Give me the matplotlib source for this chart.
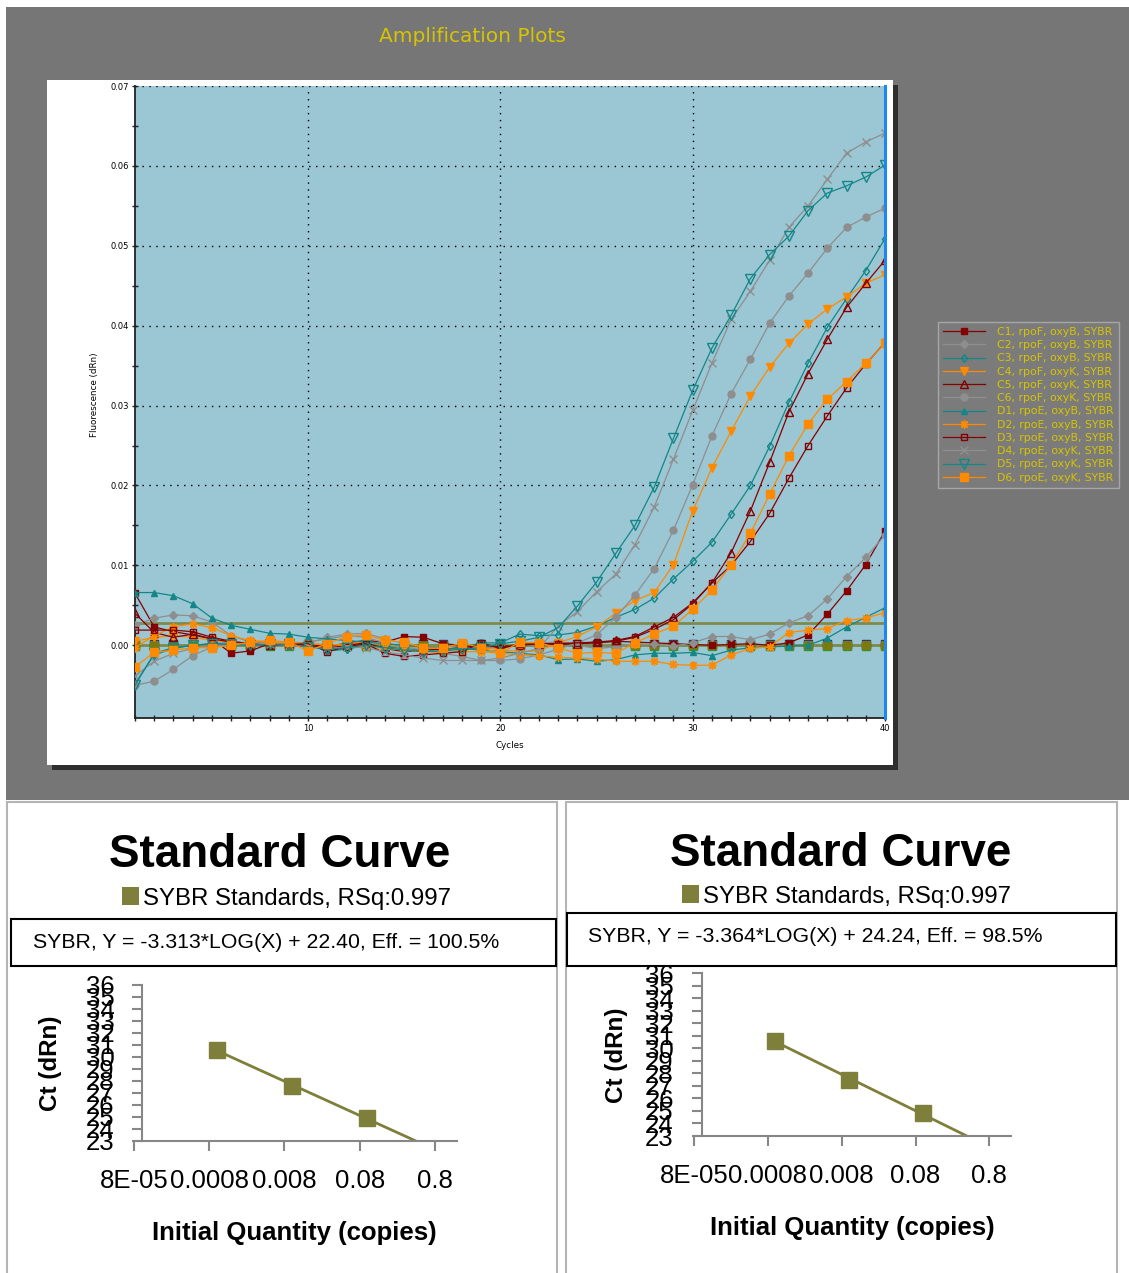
import numpy as np
import matplotlib.pyplot as plt
from matplotlib.patches import Rectangle

W, H = 1129, 1273

# ---- amplification data (dRn per cycle) ----
cycles = list(range(1, 41))

c1 = [0.0065, 0.0023, 0.0017, 0.0013, 0.0008, -0.0010, -0.0007, 0.0002, 0.0003, 0.0001,
      -0.0002, 0.0003, 0.0006, 0.0004, 0.0011, 0.0010, 0.0002, 0.0000, -0.0004, -0.0002,
      0.0001, 0.0002, 0.0003, 0.0002, 0.0003, 0.0005, 0.0004, 0.0003, 0.0002, 0.0001,
      0.0000, 0.0001, 0.0002, 0.0000, 0.0003, 0.0013, 0.0039, 0.0068, 0.0101, 0.0143]
c2 = [0.0025, 0.0034, 0.0038, 0.0037, 0.0029, 0.0012, 0.0004, 0.0002, 0.0001, 0.0003,
      0.0010, 0.0014, 0.0015, 0.0008, 0.0002, -0.0003, -0.0006, -0.0004, -0.0002, -0.0003,
      0.0001, 0.0003, 0.0004, 0.0000, -0.0004, -0.0002, 0.0002, 0.0001, -0.0001, 0.0003,
      0.0011, 0.0011, 0.0007, 0.0014, 0.0028, 0.0037, 0.0058, 0.0086, 0.0110, 0.0138]
c3 = [-0.0048, -0.0012, -0.0004, 0.0000, 0.0002, 0.0003, 0.0002, 0.0001, 0.0002, 0.0002,
      -0.0007, -0.0005, 0.0000, -0.0002, -0.0004, -0.0006, -0.0005, -0.0003, 0.0003, 0.0003,
      0.0014, 0.0012, 0.0013, 0.0016, 0.0024, 0.0035, 0.0045, 0.0059, 0.0083, 0.0105,
      0.0129, 0.0164, 0.0200, 0.0249, 0.0304, 0.0353, 0.0398, 0.0434, 0.0469, 0.0509]
c4 = [0.0005, 0.0010, 0.0012, 0.0010, 0.0006, 0.0004, 0.0003, 0.0002, 0.0004, 0.0003,
      0.0000, 0.0002, 0.0004, 0.0001, -0.0002, -0.0003, -0.0004, -0.0006, -0.0003, -0.0005,
      -0.0008, -0.0007, 0.0003, 0.0011, 0.0023, 0.0040, 0.0056, 0.0066, 0.0101, 0.0168,
      0.0222, 0.0268, 0.0312, 0.0348, 0.0378, 0.0402, 0.0421, 0.0436, 0.0453, 0.0464]
c5 = [0.0040, 0.0016, 0.0010, 0.0014, 0.0008, 0.0004, 0.0002, 0.0000, 0.0001, 0.0000,
      -0.0004, 0.0000, 0.0003, -0.0004, -0.0008, -0.0006, -0.0005, -0.0003, 0.0000, -0.0002,
      0.0000, 0.0002, 0.0001, 0.0002, 0.0004, 0.0006, 0.0011, 0.0023, 0.0035, 0.0053,
      0.0078, 0.0116, 0.0168, 0.0229, 0.0292, 0.0340, 0.0383, 0.0423, 0.0453, 0.0482]
c6 = [-0.0050, -0.0045, -0.0030, -0.0013, -0.0002, 0.0002, 0.0004, 0.0003, 0.0002, 0.0004,
      0.0008, 0.0012, 0.0010, 0.0003, -0.0002, -0.0006, -0.0010, -0.0014, -0.0019, -0.0019,
      -0.0017, -0.0012, -0.0005, 0.0003, 0.0013, 0.0035, 0.0063, 0.0096, 0.0144, 0.0201,
      0.0262, 0.0315, 0.0358, 0.0403, 0.0437, 0.0466, 0.0497, 0.0523, 0.0536, 0.0547]
d1 = [0.0066, 0.0066, 0.0062, 0.0052, 0.0034, 0.0025, 0.0020, 0.0015, 0.0014, 0.0010,
      0.0008, 0.0006, 0.0004, 0.0002, 0.0000, -0.0002, -0.0004, -0.0004, -0.0006, -0.0008,
      -0.0010, -0.0012, -0.0018, -0.0017, -0.0020, -0.0018, -0.0012, -0.0010, -0.0010, -0.0009,
      -0.0013, -0.0006, -0.0003, -0.0002, -0.0001, 0.0000, 0.0009, 0.0023, 0.0035, 0.0047]
d2 = [-0.0003, 0.0012, 0.0023, 0.0027, 0.0022, 0.0012, 0.0006, 0.0004, 0.0003, 0.0002,
      0.0001, 0.0000, -0.0002, -0.0004, -0.0006, -0.0008, -0.0009, -0.0008, -0.0008, -0.0010,
      -0.0012, -0.0013, -0.0015, -0.0016, -0.0017, -0.0020, -0.0020, -0.0020, -0.0024, -0.0025,
      -0.0025, -0.0012, -0.0004, -0.0002, 0.0016, 0.0019, 0.0021, 0.0031, 0.0034, 0.0041]
d3 = [0.0019, 0.0019, 0.0019, 0.0017, 0.0010, 0.0005, 0.0002, 0.0000, 0.0001, 0.0002,
      -0.0008, -0.0002, 0.0002, -0.0010, -0.0014, -0.0012, -0.0010, -0.0008, 0.0003, -0.0004,
      0.0001, 0.0002, 0.0002, 0.0003, 0.0004, 0.0005, 0.0010, 0.0020, 0.0032, 0.0052,
      0.0078, 0.0100, 0.0130, 0.0165, 0.0209, 0.0250, 0.0287, 0.0322, 0.0352, 0.0379]
d4 = [-0.0038, -0.0020, -0.0010, -0.0004, 0.0000, 0.0002, 0.0002, 0.0001, 0.0000, -0.0002,
      -0.0004, -0.0002, -0.0003, -0.0008, -0.0012, -0.0016, -0.0019, -0.0019, -0.0019, -0.0016,
      -0.0010, -0.0004, 0.0024, 0.0042, 0.0067, 0.0089, 0.0126, 0.0173, 0.0233, 0.0294,
      0.0353, 0.0408, 0.0443, 0.0482, 0.0523, 0.0550, 0.0583, 0.0616, 0.0630, 0.0641]
d5 = [-0.0050, -0.0010, -0.0003, 0.0000, 0.0002, 0.0001, 0.0000, 0.0001, 0.0001, -0.0002,
      -0.0005, -0.0003, 0.0000, -0.0003, -0.0006, -0.0008, -0.0007, -0.0005, -0.0003, 0.0002,
      0.0005, 0.0010, 0.0022, 0.0049, 0.0079, 0.0115, 0.0150, 0.0198, 0.0259, 0.0319,
      0.0372, 0.0413, 0.0459, 0.0489, 0.0512, 0.0544, 0.0566, 0.0575, 0.0586, 0.0601]
d6 = [-0.0027, -0.0009, -0.0006, -0.0003, -0.0003, 0.0000, 0.0004, 0.0006, 0.0004, -0.0007,
      0.0002, 0.0011, 0.0013, 0.0006, 0.0004, -0.0003, -0.0004, 0.0003, -0.0003, -0.0010,
      0.0004, 0.0003, -0.0003, -0.0010, -0.0009, -0.0010, 0.0003, 0.0014, 0.0024, 0.0045,
      0.0069, 0.0101, 0.0140, 0.0189, 0.0237, 0.0277, 0.0308, 0.0330, 0.0353, 0.0378]
# wells not in the legend, flat on the baseline
ntc_a = [0.00015] * 40
ntc_b = [-0.0001] * 40
ntc_c = [0.0] * 40

well_labels = ["C1, rpoF, oxyB, SYBR", "C2, rpoF, oxyB, SYBR", "C3, rpoF, oxyB, SYBR",
               "C4, rpoF, oxyK, SYBR", "C5, rpoF, oxyK, SYBR", "C6, rpoF, oxyK, SYBR",
               "D1, rpoE, oxyB, SYBR", "D2, rpoE, oxyB, SYBR", "D3, rpoE, oxyB, SYBR",
               "D4, rpoE, oxyK, SYBR", "D5, rpoE, oxyK, SYBR", "D6, rpoE, oxyK, SYBR"]
threshold = 0.00275

# ---- standard curves ----
std_qty = [0.001, 0.01, 0.1]
std_ct_left = [30.6, 27.6, 24.9]
std_ct_right = [30.6, 27.5, 24.8]
ct_ticks = list(range(23, 37))
qty_ticks = [8e-5, 8e-4, 8e-3, 8e-2, 0.8]
qty_labels = ["8E-05", "0.0008", "0.008", "0.08", "0.8"]
eq_left = "SYBR, Y = -3.313*LOG(X) + 22.40, Eff. = 100.5%"
eq_right = "SYBR, Y = -3.364*LOG(X) + 24.24, Eff. = 98.5%"
rsq_label = "SYBR Standards, RSq:0.997"

DRED, GRAY, TEAL, ORANGE = "#850000", "#8e8e8e", "#138787", "#ff8a00"
OLIVE = "#7f7f3c"
YELLOW = "#d7c400"

fig = plt.figure(figsize=(W / 100, H / 100), dpi=100)
fig.patch.set_facecolor("white")


def box(x0, y0, x1, y1):
    return [x0 / W, 1 - y1 / H, (x1 - x0) / W, (y1 - y0) / H]


def rect(x0, y0, x1, y1, zorder=-5, **kw):
    fig.add_artist(Rectangle((x0 / W, 1 - y1 / H), (x1 - x0) / W, (y1 - y0) / H,
                             transform=fig.transFigure, zorder=zorder, **kw))


def text(x, y, s, **kw):
    return fig.text(x / W, 1 - y / H, s, **kw)


# background of the instrument screenshot
rect(6, 7, 1129, 800, facecolor="#767676", edgecolor="none")
rect(52, 85, 898, 770, facecolor="#2e2e2e", edgecolor="none")
rect(47, 80, 893, 765, facecolor="white", edgecolor="none")
text(472, 37, "Amplification Plots", color=YELLOW, fontsize=14.5,
     family="DejaVu Sans", ha="center", va="center")

ax = fig.add_axes(box(135, 86, 885, 718))
ax.set_facecolor("#9bc6d4")
ax.set_xlim(1, 40)
ax.set_ylim(-0.0091, 0.07)
for s in ("top", "right"):
    ax.spines[s].set_visible(False)
for s in ("left", "bottom"):
    ax.spines[s].set_color("#222222")
    ax.spines[s].set_linewidth(1.3)
ax.set_xticks([10, 20, 30, 40])
ax.set_xticks(cycles, minor=True)
ax.set_yticks(np.arange(0, 0.0701, 0.01))
ax.set_yticks(np.arange(0.005, 0.07, 0.01), minor=True)
ax.yaxis.set_major_formatter(plt.FormatStrFormatter("%.2f"))
ax.tick_params(which="both", direction="inout", length=5, width=1, labelsize=6,
               color="#222222", pad=2)
ax.grid(True, which="major", color="black", linestyle=(0, (1, 4)), linewidth=1)

ax.axhline(threshold, color="#7f8a4a", lw=2, zorder=2)
ax.axhline(0.0, color="#7f8a4a", lw=2, zorder=2)

series = [
    (c1, DRED, "s", DRED, 4.5), (c2, GRAY, "D", GRAY, 4.2), (c3, TEAL, "d", "none", 4.5),
    (c4, ORANGE, "v", ORANGE, 5.5), (c5, DRED, "^", "none", 5.5), (c6, GRAY, "o", GRAY, 5),
    (d1, TEAL, "^", TEAL, 5), (d2, ORANGE, (8, 2, 0), ORANGE, 6), (d3, DRED, "s", "none", 5),
    (d4, GRAY, "x", GRAY, 5.5), (d5, TEAL, "v", "none", 6.5), (d6, ORANGE, "s", ORANGE, 5.5),
]
ax.plot(cycles, ntc_a, "s", color="#1c2a8c", ms=5.5, zorder=3)
ax.plot(cycles, ntc_b, "s", color="#2a9a2a", ms=5.5, zorder=3)
ax.plot(cycles, ntc_c, "s", color="#7a7a10", ms=5.5, zorder=3)
handles = []
for (vals, col, mk, face, ms), lab in zip(series, well_labels):
    ln, = ax.plot(cycles, vals, color=col, lw=0.9, marker=mk, mfc=face, mec=col,
                  ms=ms, mew=1, label=lab, zorder=3)
    handles.append(ln)
ax.axvline(40, color="#1e88f0", lw=2.2, zorder=4, clip_on=False)

text(95, 395, "Fluorescence (dRn)", rotation=90, fontsize=6.3, ha="center", va="center")
text(510, 745, "Cycles", fontsize=6.3, ha="center", va="center")

leg = fig.legend(handles=handles, labels=well_labels, loc="upper left",
                 bbox_to_anchor=(938 / W, 1 - 322 / H), frameon=True, fancybox=False,
                 facecolor="#7b7b7b", edgecolor="#a6a6a6", framealpha=1,
                 labelcolor=YELLOW, prop={"family": "DejaVu Sans", "size": 7.8},
                 handlelength=3.9, labelspacing=0.3, borderpad=0.45,
                 handletextpad=1.1, numpoints=1, borderaxespad=0)

# ---- bottom: two standard-curve panels ----
rect(7, 802, 557, 1290, facecolor="white", edgecolor="#b4b4b4", lw=1.5)
rect(566, 802, 1117, 1290, facecolor="white", edgecolor="#b4b4b4", lw=1.5)


def standard_curve(cx, title_y, leg_x, leg_y, eq_box, eq, eq_xy, ax_px, spine_frac,
                   ct, ylab_xy, xlab_xy):
    text(cx, title_y, "Standard Curve", fontsize=33, fontweight="bold",
         family="Liberation Sans", ha="center", va="baseline")
    rect(leg_x - 21, leg_y - 18, leg_x - 4, leg_y, facecolor=OLIVE, edgecolor="none")
    text(leg_x, leg_y, rsq_label, fontsize=17.3, family="Liberation Sans",
         ha="left", va="baseline")
    rect(*eq_box, facecolor="white", edgecolor="black", lw=1.5)
    text(eq_xy[0], eq_xy[1], eq, fontsize=15.3, family="Liberation Sans",
         ha="left", va="center")

    sx = fig.add_axes(box(*ax_px))
    sx.set_xscale("log")
    sx.set_xlim(8e-5, 1.57)
    sx.set_ylim(23, 36)
    sx.plot(std_qty, ct, "s", color=OLIVE, ms=12, zorder=3, clip_on=False)
    slope, icpt = np.polyfit(np.log10(std_qty), ct, 1)
    xs = np.logspace(np.log10(std_qty[0]), np.log10(1.57), 60)
    sx.plot(xs, slope * np.log10(xs) + icpt, color=OLIVE, lw=2, zorder=2)
    sx.set_facecolor("none")
    for s in ("top", "right"):
        sx.spines[s].set_visible(False)
    for s in ("left", "bottom"):
        sx.spines[s].set_color("#878787")
        sx.spines[s].set_linewidth(1.5)
    sx.spines["left"].set_position(("axes", spine_frac))
    sx.set_xticks(qty_ticks)
    sx.set_xticklabels(qty_labels)
    sx.xaxis.set_minor_locator(plt.NullLocator())
    sx.set_yticks(ct_ticks)
    sx.tick_params(axis="both", color="#878787", width=1.5, length=7,
                   labelsize=18.5, pad=13)
    for lab in sx.get_xticklabels() + sx.get_yticklabels():
        lab.set_family("Liberation Sans")
    text(ylab_xy[0], ylab_xy[1], "Ct (dRn)", rotation=90, fontsize=17.5,
         fontweight="bold", family="Liberation Sans", ha="center", va="center")
    text(xlab_xy[0], xlab_xy[1], "Initial Quantity (copies)", fontsize=18.5,
         fontweight="bold", family="Liberation Sans", ha="center", va="center")


standard_curve(280, 867, 143, 905, (11, 919, 556, 966), eq_left, (33, 942),
               (134, 985, 457, 1141), 0.025, std_ct_left, (50, 1063), (294, 1233))
standard_curve(841, 866, 703, 903, (567, 913, 1116, 966), eq_right, (588, 937),
               (694, 973, 1011, 1136), 0.024, std_ct_right, (617, 1055), (852, 1228))

fig.savefig("out.png", dpi=100)
